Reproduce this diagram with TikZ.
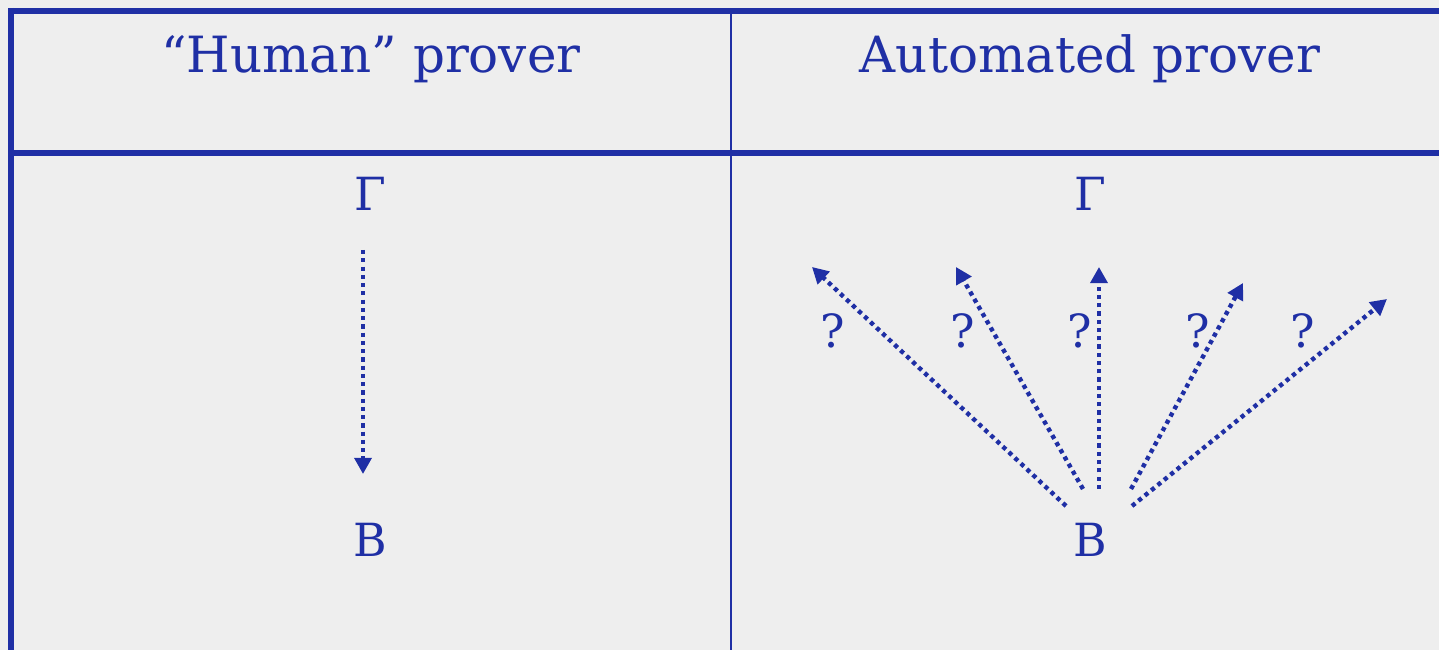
\documentclass[tikz,border=0pt]{standalone}
\usepackage{fontspec}
\setmainfont{DejaVu Serif}
\usetikzlibrary{arrows.meta}
\definecolor{inkblue}{RGB}{31,47,165}
\definecolor{paper}{RGB}{238,238,238}
\begin{document}
\begin{tikzpicture}[>={Triangle[length=4.6pt,width=4.8pt]},
  rule/.style={inkblue,line width=1.7pt},
  dots/.style={inkblue,line width=1.25pt,dash pattern=on 1.2pt off 1.15pt},
  head/.style={inkblue,anchor=base,font=\fontsize{14.2}{17}\selectfont},
  sym/.style={inkblue,anchor=base,font=\fontsize{13}{15}\selectfont}]
\fill[paper] (0,0) rectangle (14.39,6.5);
\useasboundingbox (0,0) rectangle (14.39,6.5);

\draw[rule] (0.08,6.39)--(14.39,6.39);
\draw[rule] (0.11,6.42)--(0.11,0);
\draw[rule] (0.11,4.97)--(14.39,4.97);
\draw[inkblue,line width=0.6pt] (7.31,6.39)--(7.31,0);

\node[head] (hleft) at (3.71,5.77) {“Human” prover};
\node[head] (hright) at (10.90,5.77) {Automated prover};

\node[sym] (gl) at (3.70,4.39) {Γ};
\node[sym] (bl) at (3.70,0.93) {B};
\node[sym] (gr) at (10.90,4.39) {Γ};
\node[sym] (br) at (10.90,0.93) {B};

\coordinate (s) at (3.63,4.00);
\coordinate (t) at (3.63,1.76);
\draw[dots,->] (s)--(t);

\coordinate (b1) at (10.66,1.44);
\coordinate (b2) at (10.83,1.61);
\coordinate (b3) at (10.99,1.61);
\coordinate (b4) at (11.31,1.61);
\coordinate (b5) at (11.32,1.44);
\coordinate (g1) at (8.12,3.83);
\coordinate (g2) at (9.56,3.83);
\coordinate (g3) at (10.99,3.83);
\coordinate (g4) at (12.43,3.67);
\coordinate (g5) at (13.87,3.51);

\foreach \i in {1,...,5}
  \draw[dots,->] (b\i)--(g\i);

\node[sym] (q1) at (8.33,3.02) {?};
\node[sym] (q2) at (9.63,3.02) {?};
\node[sym] (q3) at (10.80,3.02) {?};
\node[sym] (q4) at (11.98,3.02) {?};
\node[sym] (q5) at (13.03,3.02) {?};
\end{tikzpicture}
\end{document}
